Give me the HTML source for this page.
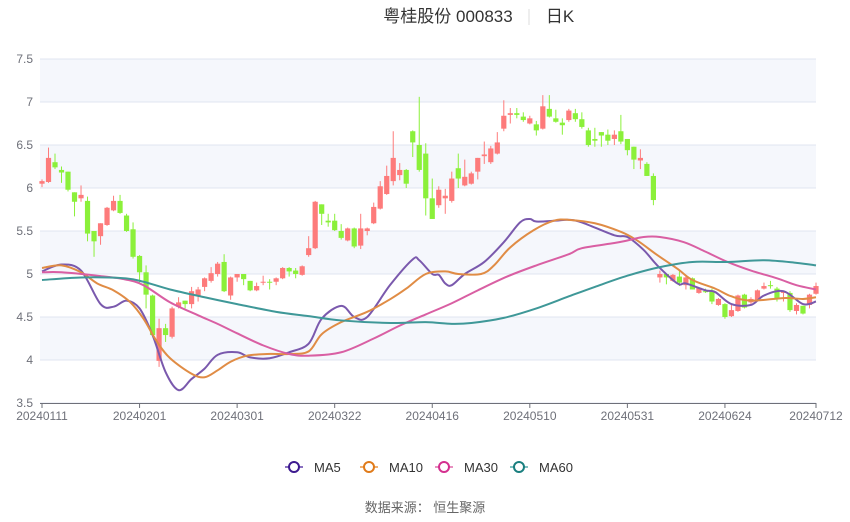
<!DOCTYPE html>
<html><head><meta charset="utf-8">
<style>
html,body{margin:0;padding:0;background:#fff;}
body{width:850px;height:517px;overflow:hidden;font-family:"Liberation Sans","Noto Sans CJK SC",sans-serif;}
</style></head>
<body>
<svg id="chart" width="850" height="517" xmlns="http://www.w3.org/2000/svg">
<g id="title">
<text x="448" y="22" text-anchor="middle" font-size="17" fill="#333" font-family="Liberation Sans, Noto Sans CJK SC, sans-serif">粤桂股份 000833</text>
<line x1="529" y1="9" x2="529" y2="25" stroke="#ddd"/>
<text x="560" y="22" text-anchor="middle" font-size="17" fill="#333" font-family="Liberation Sans, Noto Sans CJK SC, sans-serif">日K</text>
</g>
<g id="grid"></g>
<g id="yaxis"></g>
<g id="xaxis"></g>
<g id="candles"></g>
<g id="malines"></g>
<g id="legend"></g>
<text x="425" y="512" text-anchor="middle" font-size="13" fill="#666" font-family="Liberation Sans, Noto Sans CJK SC, sans-serif">数据来源：  恒生聚源</text>
</svg>
<script>
const dates = ["20240111","20240201","20240301","20240322","20240416","20240510","20240531","20240624","20240712"];
const dateIdx = [0,15,30,45,60,75,90,105,119];
const yTicks = [3.5,4,4.5,5,5.5,6,6.5,7,7.5];
const opens = [6.05,6.07,6.30,6.21,6.19,5.95,5.88,5.85,5.50,5.44,5.57,5.74,5.85,5.68,5.52,5.21,5.02,4.75,3.99,4.37,4.27,4.62,4.69,4.65,4.75,4.85,4.92,5.00,5.14,4.75,4.96,5.00,4.92,4.81,4.90,4.91,4.91,4.95,5.07,5.04,4.99,5.22,5.30,5.81,5.62,5.62,5.50,5.39,5.53,5.33,5.50,5.59,5.76,5.93,6.08,6.15,6.21,6.66,6.50,6.40,5.88,5.80,5.88,5.85,6.23,6.03,6.05,6.19,6.37,6.30,6.40,6.69,6.85,6.87,6.83,6.75,6.74,6.69,6.92,6.81,6.76,6.79,6.87,6.80,6.67,6.57,6.65,6.62,6.57,6.66,6.57,6.48,6.32,6.28,6.14,4.96,5.00,4.92,4.97,4.87,4.95,4.78,4.80,4.81,4.64,4.65,4.51,4.57,4.76,4.67,4.69,4.83,4.87,4.83,4.78,4.78,4.57,4.63,4.64,4.77];
const closes = [6.08,6.35,6.24,6.18,5.98,5.84,5.92,5.47,5.38,5.59,5.77,5.85,5.71,5.50,5.20,5.02,4.76,4.29,4.37,4.29,4.60,4.67,4.65,4.80,4.82,4.95,5.01,5.12,4.80,4.96,5.00,4.94,4.81,4.86,4.91,4.90,4.95,5.07,5.03,5.00,5.09,5.30,5.84,5.70,5.60,5.51,5.42,5.53,5.32,5.53,5.53,5.78,6.02,6.14,6.35,6.21,6.05,6.53,6.21,5.88,5.64,5.98,5.91,6.11,6.11,6.13,6.17,6.35,6.39,6.46,6.53,6.84,6.87,6.85,6.79,6.81,6.67,6.95,6.83,6.77,6.73,6.90,6.80,6.71,6.50,6.55,6.61,6.55,6.62,6.54,6.44,6.33,6.35,6.14,5.86,5.00,4.96,4.99,4.90,4.96,4.82,4.84,4.79,4.68,4.71,4.50,4.58,4.75,4.61,4.71,4.81,4.86,4.86,4.71,4.80,4.58,4.64,4.54,4.76,4.86];
const highs = [6.10,6.47,6.40,6.25,6.19,5.95,6.03,5.90,5.50,5.59,5.78,5.91,5.92,5.70,5.60,5.22,5.10,4.76,4.48,4.42,4.62,4.73,4.69,4.85,4.85,4.96,5.08,5.14,5.23,4.97,5.00,5.00,4.92,4.90,4.98,4.94,4.96,5.08,5.08,5.07,5.10,5.44,5.85,5.81,5.70,5.70,5.58,5.54,5.54,5.70,5.54,5.83,6.08,6.26,6.66,6.29,6.22,6.67,7.06,6.52,6.11,6.02,5.99,6.19,6.40,6.33,6.19,6.35,6.54,6.49,6.65,7.02,6.93,6.93,6.88,6.84,6.78,7.08,7.08,6.91,6.81,6.92,6.92,6.88,6.70,6.70,6.65,6.68,6.67,6.85,6.57,6.48,6.45,6.30,6.17,5.04,5.00,5.00,5.03,4.98,4.96,4.84,4.83,4.83,4.72,4.66,4.65,4.76,4.77,4.73,4.82,4.90,4.92,4.85,4.80,4.80,4.66,4.63,4.77,4.90];
const lows = [6.01,6.06,6.22,6.06,5.96,5.67,5.84,5.38,5.20,5.34,5.56,5.73,5.70,5.49,5.18,4.90,4.60,4.28,3.92,4.21,4.25,4.60,4.60,4.60,4.68,4.80,4.90,4.97,4.79,4.70,4.91,4.87,4.80,4.80,4.87,4.82,4.87,4.94,4.97,4.95,4.98,5.20,5.29,5.57,5.55,5.50,5.40,5.38,5.30,5.29,5.45,5.58,5.75,5.92,6.03,6.09,6.00,6.36,6.19,5.68,5.64,5.77,5.70,5.83,6.00,6.02,6.04,6.10,6.28,6.28,6.39,6.66,6.75,6.81,6.77,6.74,6.61,6.68,6.82,6.76,6.62,6.77,6.77,6.69,6.48,6.48,6.48,6.50,6.50,6.51,6.38,6.22,6.22,6.14,5.80,4.90,4.88,4.91,4.86,4.82,4.82,4.77,4.78,4.65,4.63,4.48,4.50,4.56,4.60,4.64,4.68,4.82,4.83,4.68,4.68,4.56,4.53,4.53,4.60,4.76];

const ma5Idx = [0,3,6,9,11,13,15,17,19,21,23,25,27,30,32,35,38,41,43,46,48,50,53.5,57,58,60,61,62,63,65,68,71,73.5,75,76,79,81,83,88,90,92.5,94.6,97.7,99,102,103.5,106,109,111,114,117,119];
const ma5Val = [5.03,5.11,5.04,4.65,4.62,4.69,4.60,4.29,3.86,3.65,3.78,3.90,4.06,4.09,4.03,4.02,4.09,4.19,4.48,4.63,4.50,4.50,4.87,5.17,5.16,5.00,4.99,4.89,4.87,5.00,5.14,5.37,5.60,5.64,5.61,5.62,5.63,5.60,5.45,5.43,5.28,5.10,4.89,4.89,4.81,4.79,4.65,4.64,4.75,4.80,4.65,4.68];
const ma10Idx = [0,3,6,8.5,11,13.6,15.6,17.7,19.7,23,25,27,29,31.5,34.6,38,41,43,46,50,53.6,56,59,62,64,67.5,69.5,72,75.6,78.7,81,85,89,91.5,94.6,97.7,100,103.5,106,109,114,117,119];
const ma10Val = [5.07,5.10,5.02,4.89,4.81,4.67,4.48,4.21,4.02,3.84,3.80,3.88,3.98,4.05,4.07,4.07,4.10,4.30,4.44,4.56,4.71,4.83,5.00,5.03,5.00,5.00,5.10,5.31,5.51,5.62,5.63,5.59,5.49,5.39,5.22,5.06,4.93,4.83,4.74,4.69,4.72,4.71,4.73];
const ma30Idx = [0,3,8.5,12.6,15.6,19.7,24,27,30,34,38,41,46,51,55,59,63,67,71.5,76,81,83,88,90,92.5,95,98.7,102,105.4,109,113,116,119];
const ma30Val = [5.02,5.02,4.98,4.94,4.87,4.67,4.52,4.42,4.31,4.17,4.07,4.05,4.09,4.25,4.40,4.53,4.66,4.81,4.97,5.10,5.23,5.30,5.36,5.39,5.43,5.43,5.37,5.26,5.14,5.04,4.95,4.87,4.82];
const ma60Idx = [0,6,12.6,15.6,19.7,25,30,36,41,46,53.6,59,63,66,71,76,81,85,90,95,100,105.4,111,116,119];
const ma60Val = [4.93,4.96,4.95,4.91,4.82,4.73,4.65,4.56,4.51,4.46,4.43,4.44,4.42,4.43,4.49,4.60,4.74,4.85,4.98,5.08,5.14,5.14,5.16,5.13,5.10];

const NS = "http://www.w3.org/2000/svg";
const L = 40, R = 816, T = 59, B = 403, YMIN = 3.5, YMAX = 7.5, N = 120;
function xOf(i){ return 42 + i * (R - 42) / (N - 1); }
function yOf(v){ return B - (v - YMIN) / (YMAX - YMIN) * (B - T); }
function mk(tag, attrs, parent){
  const e = document.createElementNS(NS, tag);
  for (const k in attrs) e.setAttribute(k, attrs[k]);
  parent.appendChild(e); return e;
}
const grid = document.getElementById('grid');
for (let k = 0; k < yTicks.length - 1; k++) {
  if (k % 2 === 1) {
    const r = mk('rect', {x:L, y:yOf(yTicks[k+1]), width:R-L, height:yOf(yTicks[k])-yOf(yTicks[k+1]), fill:'#f5f7fc'}, grid);
    
    
  }
}
const yaxis = document.getElementById('yaxis');
yTicks.forEach(v => {
  const ln = mk('line', {x1:L, x2:R, y1:yOf(v), y2:yOf(v), stroke:'#e0e6f1', 'stroke-width':1}, grid);
  
  
  const t = mk('text', {x:33, y:yOf(v)+4, 'text-anchor':'end', 'font-size':12, fill:'#6e7079'}, yaxis);
  t.textContent = String(v);
  
  
});
const xaxis = document.getElementById('xaxis');
const axl = mk('line', {x1:L, x2:R, y1:B+0.5, y2:B+0.5, stroke:'#6e7079'}, xaxis);


dates.forEach((d, k) => {
  const x = xOf(dateIdx[k]);
  const tk = mk('line', {x1:x, x2:x, y1:B, y2:B+5, stroke:'#6e7079'}, xaxis);
  
  
  const t = mk('text', {x:x, y:B+17, 'text-anchor':'middle', 'font-size':12, fill:'#6e7079'}, xaxis);
  t.textContent = d;
  
  
});
const cg = document.getElementById('candles');
for (let i = 0; i < N; i++) {
  const up = closes[i] >= opens[i];
  const col = up ? '#fd7b7b' : '#8bf03a';
  const x = xOf(i);
  const g = mk('g', {}, cg);
  
  
  mk('line', {x1:x, x2:x, y1:yOf(highs[i]), y2:yOf(lows[i]), stroke:col, 'stroke-width':1}, g);
  const top = yOf(Math.max(opens[i], closes[i])), bot = yOf(Math.min(opens[i], closes[i]));
  mk('rect', {x:x-2.6, y:top, width:5.2, height:Math.max(1, bot-top), fill:col}, g);
}
function smoothPath(idx, val){
  const pts = idx.map((i, k) => [xOf(i), yOf(val[k])]);
  let d = 'M' + pts[0][0] + ',' + pts[0][1];
  for (let k = 0; k < pts.length - 1; k++) {
    const p0 = pts[k-1] || pts[k], p1 = pts[k], p2 = pts[k+1], p3 = pts[k+2] || p2;
    const c1x = p1[0] + (p2[0]-p0[0])/6, c1y = p1[1] + (p2[1]-p0[1])/6;
    const c2x = p2[0] - (p3[0]-p1[0])/6, c2y = p2[1] - (p3[1]-p1[1])/6;
    d += ' C' + c1x + ',' + c1y + ' ' + c2x + ',' + c2y + ' ' + p2[0] + ',' + p2[1];
  }
  return d;
}
const mg = document.getElementById('malines');
const maDefs = [['ma5-line', ma5Idx, ma5Val, '#7a59ad'], ['ma10-line', ma10Idx, ma10Val, '#e08c45'], ['ma30-line', ma30Idx, ma30Val, '#d95fa3'], ['ma60-line', ma60Idx, ma60Val, '#3f9898']];
maDefs.forEach(m => {
  const p = mk('path', {d:smoothPath(m[1], m[2]), fill:'none', stroke:m[3], 'stroke-width':2}, mg);
  
  
});
const lg = document.getElementById('legend');
const legItems = [['MA5', 294, '#3d1a8f', '#8a70c0'], ['MA10', 369, '#e07b1a', '#f0b070'], ['MA30', 444, '#d4308f', '#e890c0'], ['MA60', 519, '#1a7f7f', '#80c0c0']];
legItems.forEach(it => {
  const g = mk('g', {}, lg);
  
  
  mk('line', {x1:it[1]-9, x2:it[1]+9, y1:467, y2:467, stroke:it[3], 'stroke-width':2}, g);
  mk('circle', {cx:it[1], cy:467, r:5, fill:'#fff', stroke:it[2], 'stroke-width':2}, g);
  const t = mk('text', {x:it[1]+20, y:472, 'font-size':13, fill:'#333'}, g);
  t.textContent = it[0];
});
</script>
</body></html>
